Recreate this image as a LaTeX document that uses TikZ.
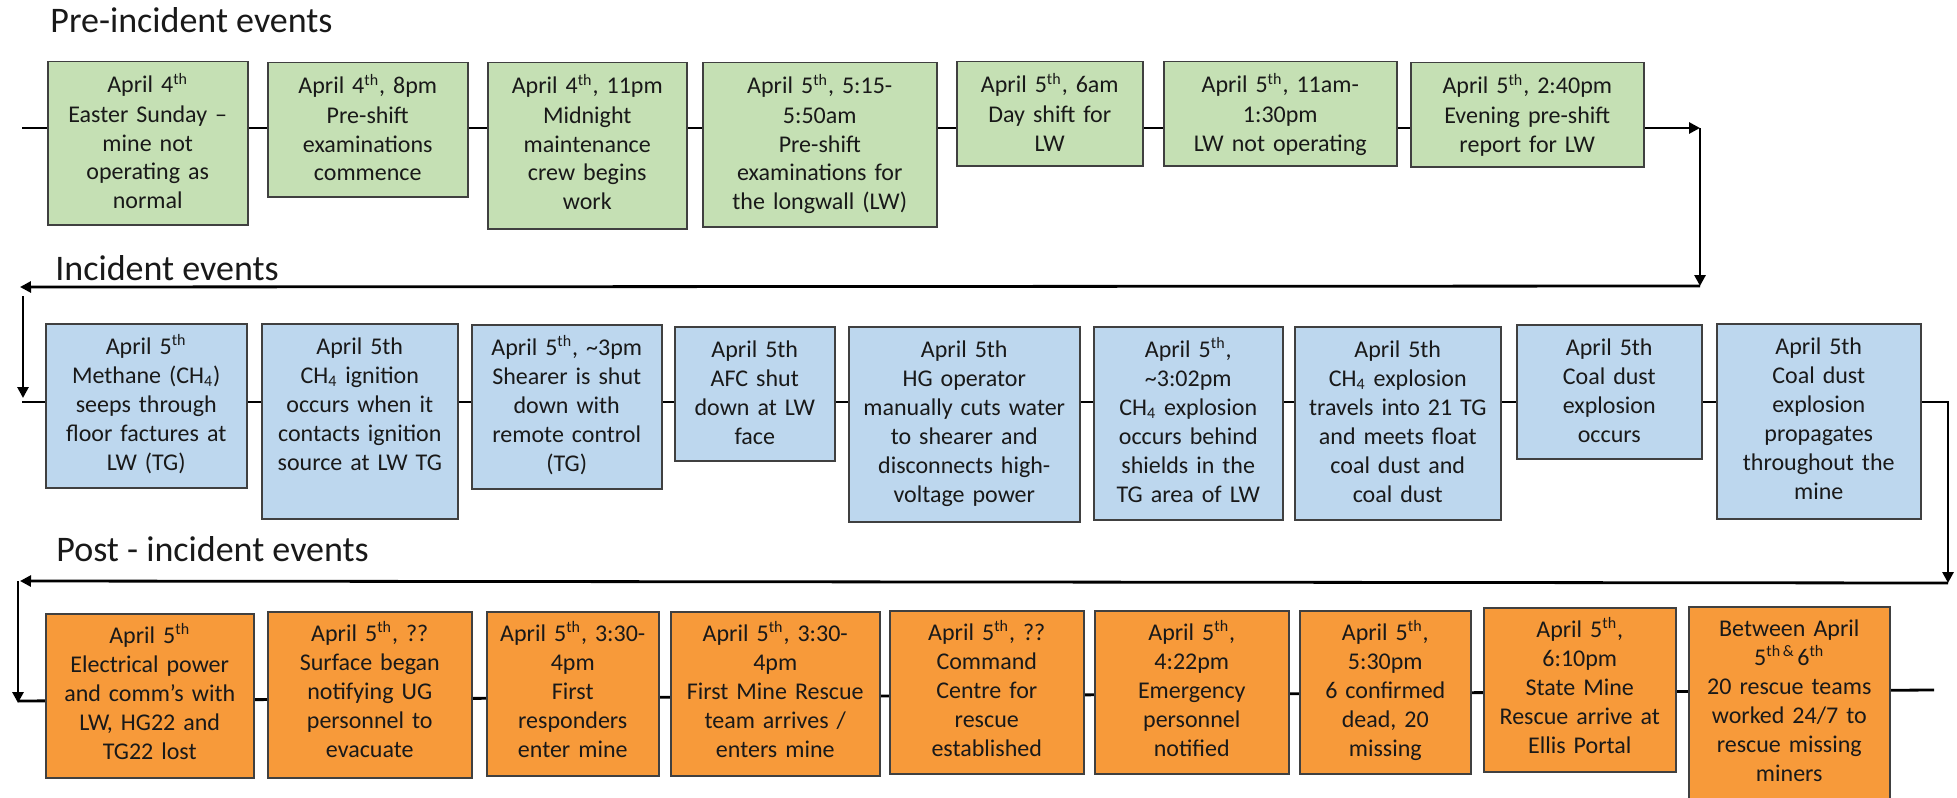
\documentclass[tikz,border=0pt]{standalone}
\usepackage{fontspec}
\setmainfont{Carlito}
\usetikzlibrary{arrows.meta}
\definecolor{gfill}{HTML}{C5E0B4}
\definecolor{bfill}{HTML}{BDD7EE}
\definecolor{ofill}{HTML}{F79A3A}
\definecolor{bord}{HTML}{404040}
\newcommand{\sth}{\textsuperscript{th}}
\newcommand{\chf}{CH\textsubscript{4}}
\newcommand{\evbox}[7]{%
  \pgfmathsetlengthmacro{\bw}{(#5-#3)*0.5pt}%
  \pgfmathsetlengthmacro{\bh}{(#6-#4)*0.5pt}%
  \pgfmathsetlengthmacro{\tw}{(#5-#3)*0.5pt-2pt}%
  \node[#2, anchor=north west, minimum width=\bw, minimum height=\bh] (#1) at (#3,#4) {};
  \node[evtxt, text width=\tw, anchor=base] (#1t) at ([yshift=-\toff]#1.north) {#7};}
\begin{document}
\begin{tikzpicture}[x=0.5pt, y=-0.5pt,
  boxbase/.style={draw=bord, line width=0.75pt, inner sep=0pt, rectangle},
  gbox/.style={boxbase, fill=gfill},
  bbox/.style={boxbase, fill=bfill},
  obox/.style={boxbase, fill=ofill},
  evtxt/.style={inner sep=0pt, align=center, font=\fontsize{12}{14.5}\selectfont, text=black!90},
  ttl/.style={inner sep=0pt, anchor=base west, font=\fontsize{18}{22}\selectfont, text=black!90},
  conn/.style={line width=1.4pt, black},
  arr/.style={conn, -{Triangle[length=5.5pt,width=5.5pt]}}]
\useasboundingbox (0,0) rectangle (1957,797);

% titles
\node[ttl] (t1) at (50,33) {Pre-incident events};
\node[ttl] (t2) at (55,280) {Incident events};
\node[ttl] (t3) at (56,561) {Post - incident events};

% connector coordinates
\coordinate (r1s) at (22,128);
\coordinate (r1e) at (1700,128);
\coordinate (r1d) at (1700,286);
\coordinate (r1f) at (20,287);
\coordinate (r2a) at (23,296);
\coordinate (r2b) at (23,398);
\coordinate (r2s) at (22,402);
\coordinate (r2c) at (1948,402);
\coordinate (r2d) at (1948,583);
\coordinate (r2f) at (20,581);
\coordinate (r3a) at (18,581);
\coordinate (r3b) at (18,703);
\coordinate (r3s) at (18,701);
\coordinate (r3e) at (1934,690);

\draw[arr] (r1s) -- (r1e);
\draw[arr] (r1e) -- (r1d);
\draw[arr] (r1d) -- (r1f);
\draw[arr] (r2a) -- (r2b);
\draw[arr] (r2s) -- (r2c) -- (r2d);
\draw[arr] (r2d) -- (r2f);
\draw[arr] (r3a) -- (r3b);
\draw[conn] (r3s) -- (r3e);

% row 1
\def\toff{16pt}
\evbox{g1}{gbox}{47}{61}{247}{224}{April 4\sth\\Easter Sunday –\\mine not\\operating as\\normal}
\evbox{g2}{gbox}{267}{62}{467}{196}{April 4\sth, 8pm\\Pre-shift\\examinations\\commence}
\evbox{g3}{gbox}{487}{62}{686}{228}{April 4\sth, 11pm\\Midnight\\maintenance\\crew begins\\work}
\evbox{g4}{gbox}{702}{62}{936}{226}{April 5\sth, 5:15-\\5:50am\\Pre-shift\\examinations for\\the longwall (LW)}
\evbox{g5}{gbox}{956}{61}{1142}{165}{April 5\sth, 6am\\Day shift for\\LW}
\evbox{g6}{gbox}{1163}{61}{1396}{165}{April 5\sth, 11am-\\1:30pm\\LW not operating}
\evbox{g7}{gbox}{1410}{62}{1643}{166}{April 5\sth, 2:40pm\\Evening pre-shift\\report for LW}

% row 2
\def\toff{15.5pt}
\evbox{b1}{bbox}{45}{323}{246}{487}{April 5\sth\\Methane (\chf)\\seeps through\\floor factures at\\LW (TG)}
\evbox{b2}{bbox}{261}{323}{457}{518}{April 5th\\\chf{} ignition\\occurs when it\\contacts ignition\\source at LW TG}
\evbox{b3}{bbox}{471}{324}{661}{488}{April 5\sth, \textasciitilde 3pm\\Shearer is shut\\down with\\remote control\\(TG)}
\evbox{b4}{bbox}{674}{326}{834}{460}{April 5th\\AFC shut\\down at LW\\face}
\evbox{b5}{bbox}{848}{326}{1079}{521}{April 5th\\HG operator\\manually cuts water\\to shearer and\\disconnects high-\\voltage power}
\evbox{b6}{bbox}{1093}{326}{1282}{519}{April 5\sth,\\\textasciitilde 3:02pm\\\chf{} explosion\\occurs behind\\shields in the\\TG area of LW}
\evbox{b7}{bbox}{1294}{326}{1500}{519}{April 5th\\\chf{} explosion\\travels into 21 TG\\and meets float\\coal dust and\\coal dust}
\evbox{b8}{bbox}{1516}{324}{1701}{458}{April 5th\\Coal dust\\explosion\\occurs}
\evbox{b9}{bbox}{1716}{323}{1920}{518}{April 5th\\Coal dust\\explosion\\propagates\\throughout the\\mine}

% row 3
\def\toff{15pt}
\evbox{o1}{obox}{45}{613}{253}{777}{April 5\sth\\Electrical power\\and comm’s with\\LW, HG22 and\\TG22 lost}
\evbox{o2}{obox}{267}{611}{471}{777}{April 5\sth, ??\\Surface began\\notifying UG\\personnel to\\evacuate}
\evbox{o3}{obox}{486}{611}{658}{775}{April 5\sth, 3:30-\\4pm\\First\\responders\\enter mine}
\evbox{o4}{obox}{670}{611}{879}{775}{April 5\sth, 3:30-\\4pm\\First Mine Rescue\\team arrives /\\enters mine}
\evbox{o5}{obox}{889}{610}{1083}{773}{April 5\sth, ??\\Command\\Centre for\\rescue\\established}
\evbox{o6}{obox}{1094}{610}{1288}{773}{April 5\sth,\\4:22pm\\Emergency\\personnel\\notified}
\evbox{o7}{obox}{1299}{610}{1470}{773}{April 5\sth,\\5:30pm\\6 confirmed\\dead, 20\\missing}
\evbox{o8}{obox}{1483}{607}{1675}{771}{April 5\sth,\\6:10pm\\State Mine\\Rescue arrive at\\Ellis Portal}
\evbox{o9}{obox}{1688}{606}{1889}{805}{Between April\\5\textsuperscript{th\,\&\,}6\sth\\20 rescue teams\\worked 24/7 to\\rescue missing\\miners}
\end{tikzpicture}
\end{document}
